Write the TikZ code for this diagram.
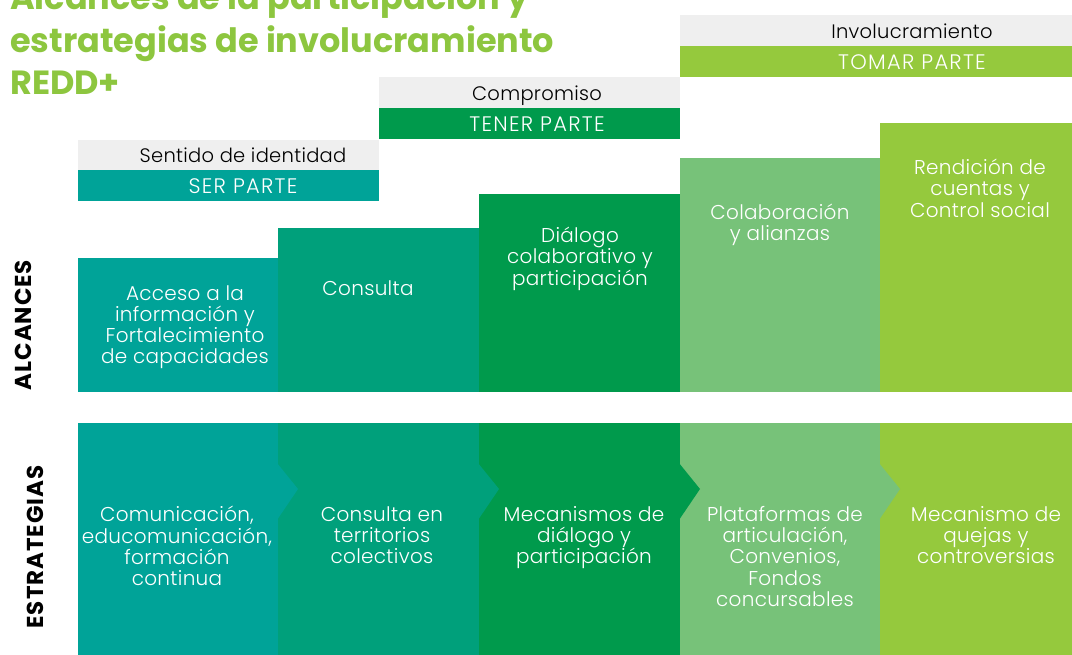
\documentclass[tikz,border=0pt]{standalone}
\usepackage{fontspec}
\setmainfont{Poppins}[UprightFont={* Light},BoldFont={* Bold}]
\usepackage{xcolor}
\usetikzlibrary{positioning}

\definecolor{tealcol}{HTML}{00A398}
\definecolor{jadecol}{HTML}{00A07B}
\definecolor{greencol}{HTML}{009A4C}
\definecolor{softcol}{HTML}{77C279}
\definecolor{limecol}{HTML}{95C93D}
\definecolor{titlecol}{HTML}{8DC63F}
\definecolor{bandgray}{HTML}{EFEFEF}

\begin{document}
\begin{tikzpicture}[x=1pt,y=-1pt,
        boxtext/.style={
                text=white,
                align=center,
                anchor=north,
                inner sep=0pt,
                execute at begin node=\strut,
                font=\fontsize{20}{21.3}\selectfont\addfontfeature{LetterSpace=1.5},
        },
        bandtext/.style={
                anchor=base,
                inner sep=0pt,
                font=\fontsize{19.5}{21}\selectfont\addfontfeature{LetterSpace=1.5},
        },
        capstext/.style={
                anchor=base,
                inner sep=0pt,
                text=white,
                font=\fontsize{21}{21}\selectfont\addfontfeature{LetterSpace=6},
        },
        titletext/.style={
                anchor=base west,
                inner sep=0pt,
                text=titlecol,
                font=\fontsize{33.5}{42}\selectfont\bfseries,
        },
        sidetext/.style={
                rotate=90,
                inner sep=0pt,
                font=\fontsize{23}{23}\selectfont\bfseries\addfontfeature{LetterSpace=4},
        }]
            \clip (0,0) rectangle (1072,655);
            \fill[white] (0,0) rectangle (1072,655);

            % title
            \node[titletext] (title) at (10,10) {Alcances de la participación y};
            \node[titletext] (title2) at (10,53) {estrategias de involucramiento};
            \node[titletext] (title3) at (10,95) {REDD+};

            % header bands
            \fill[bandgray] (78,140) rectangle (379,170);
            \fill[tealcol] (78,170) rectangle (379,201);
            \node[bandtext] (identidad) at (243,163) {Sentido de identidad};
            \node[capstext] (ser) at (243,194) {SER PARTE};

            \fill[bandgray] (379,77) rectangle (680,108);
            \fill[greencol] (379,108) rectangle (680,139);
            \node[bandtext] (compromiso) at (537,101) {Compromiso};
            \node[capstext] (tener) at (537,132) {TENER PARTE};

            \fill[bandgray] (680,15) rectangle (1072,46);
            \fill[limecol] (680,46) rectangle (1072,77);
            \node[bandtext] (involucramiento) at (912,39) {Involucramiento};
            \node[capstext] (tomar) at (912,70) {TOMAR PARTE};

            % alcances
            \fill[tealcol] (78,258) rectangle (278,392);
            \fill[jadecol] (278,228) rectangle (479,392);
            \fill[greencol] (479,194) rectangle (680,392);
            \fill[softcol] (680,158) rectangle (880,392);
            \fill[limecol] (880,123) rectangle (1072,392);
            \node[boxtext] (acceso) at (185,285) {Acceso a la\\información y\\Fortalecimiento\\de capacidades};
            \node[boxtext] (consulta) at (368,280) {Consulta};
            \node[boxtext] (dialogo) at (580,227) {Diálogo\\colaborativo y\\participación};
            \node[boxtext] (colaboracion) at (780,204) {Colaboración\\y alianzas};
            \node[boxtext] (rendicion) at (980,159) {Rendición de\\cuentas y\\Control social};

            % estrategias
            \fill[tealcol] (78,423) rectangle (278,655);
            \fill[jadecol] (278,423) rectangle (479,655);
            \fill[greencol] (479,423) rectangle (680,655);
            \fill[softcol] (680,423) rectangle (880,655);
            \fill[limecol] (880,423) rectangle (1072,655);
            \fill[tealcol] (277,463) -- (298,489) -- (277,520) -- cycle;
            \fill[jadecol] (478,463) -- (499,489) -- (478,520) -- cycle;
            \fill[greencol] (679,463) -- (700,489) -- (679,520) -- cycle;
            \fill[softcol] (879,463) -- (900,489) -- (879,520) -- cycle;
            \node[boxtext] (comunicacion) at (177,506) {Comunicación,\\educomunicación,\\formación\\continua};
            \node[boxtext] (territorios) at (382,506) {Consulta en\\territorios\\colectivos};
            \node[boxtext] (mecanismos) at (584,506) {Mecanismos de\\diálogo y\\participación};
            \node[boxtext] (plataformas) at (785,506) {Plataformas de\\articulación,\\Convenios,\\Fondos\\concursables};
            \node[boxtext] (quejas) at (986,506) {Mecanismo de\\quejas y\\controversias};

            % side labels
            \node[sidetext] (alcances) at (23,325) {ALCANCES};
            \node[sidetext] (estrategias) at (35,547) {ESTRATEGIAS};
        \end{tikzpicture}
\end{document}
